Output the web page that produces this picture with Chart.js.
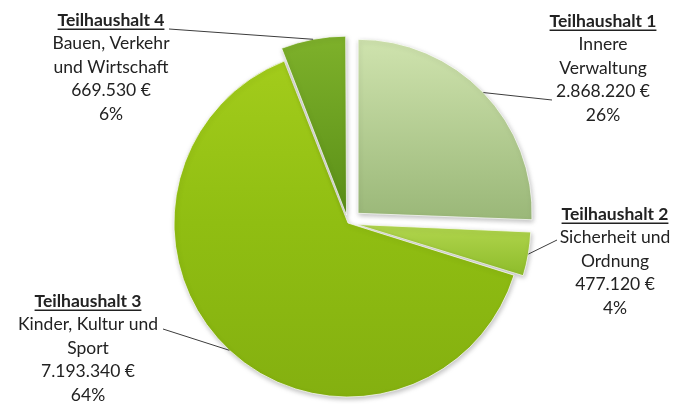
<!DOCTYPE html>
<html>
<head>
<meta charset="utf-8">
<script src="https://cdn.jsdelivr.net/npm/chart.js@4/dist/chart.umd.min.js"></script>
<style>
  html, body { margin: 0; padding: 0; background: #fff; }
  #pie { display: block; }
</style>
</head>
<body>
<canvas id="pie" width="687" height="404"></canvas>
<script>
// Teilhaushalte - Anteil am Budget
var titles = ['Teilhaushalt 1', 'Teilhaushalt 2', 'Teilhaushalt 3', 'Teilhaushalt 4'];
var descriptions = [
  ['Innere', 'Verwaltung'],
  ['Sicherheit und', 'Ordnung'],
  ['Kinder, Kultur und', 'Sport'],
  ['Bauen, Verkehr', 'und Wirtschaft']
];
var amounts = [2868220, 477120, 7193340, 669530];

// looks
var R = 174;
var sliceOffset = [56, 36, 0, 32];
var sliceGrow = [0, 0, 0, 5];
var sliceStops = [
  [[0, '#cfe3ae'], [0.5, '#9cb97a'], [1, '#8aa86a']],
  [[0, '#c4e266'], [0.5, '#b2d64e'], [0.64, '#8fbd2c'], [1, '#80ad20']],
  [[0, '#a4cd1c'], [0.5, '#90be12'], [1, '#84b010']],
  [[0, '#7db02a'], [0.5, '#5a8f17'], [1, '#4f8012']]
];
// label block: center x, first line y, start of the leader line
var labelBox = [
  { x: 603, y: 21, line: [552, 100] },
  { x: 615, y: 214, line: [557, 240] },
  { x: 88, y: 301, line: [163, 329] },
  { x: 111, y: 20, line: [169, 29] }
];
var lineGap = 23.6;
var FONT = 'Lato, "Open Sans", sans-serif';

var total = amounts.reduce(function (a, b) { return a + b; }, 0);
function euro(v) {
  return String(v).replace(/\B(?=(\d{3})+(?!\d))/g, '.') + ' €';
}

function sliceFill(ctx) {
  var chart = ctx.chart;
  var area = chart.chartArea;
  var stops = sliceStops[ctx.dataIndex];
  if (!area) return stops[1][1];
  var cy = (area.top + area.bottom) / 2;
  var g = chart.ctx.createLinearGradient(0, cy - R, 0, cy + R);
  stops.forEach(function (s) { g.addColorStop(s[0], s[1]); });
  return g;
}

// chart.js grows small exploded slices by itself, set the size we want
var keepRadius = {
  id: 'keepRadius',
  afterDatasetUpdate: function (chart) {
    chart.getDatasetMeta(0).data.forEach(function (arc, i) {
      var off = sliceOffset[i] / 4;
      var fix = 1 - Math.sin(Math.min(Math.PI, arc.circumference));
      arc.outerRadius = R + sliceGrow[i] - off * fix;
    });
  }
};

var softShadow = {
  id: 'softShadow',
  beforeDatasetsDraw: function (chart) {
    var c = chart.ctx;
    c.save();
    c.shadowColor = 'rgba(0,0,0,0.25)';
    c.shadowBlur = 5;
    c.shadowOffsetX = 1;
    c.shadowOffsetY = 2;
  },
  afterDatasetsDraw: function (chart) {
    chart.ctx.restore();
  }
};

var sliceLabels = {
  id: 'sliceLabels',
  afterDraw: function (chart) {
    var c = chart.ctx;
    var arcs = chart.getDatasetMeta(0).data;
    c.save();
    arcs.forEach(function (arc, i) {
      var box = labelBox[i];
      var mid = (arc.startAngle + arc.endAngle) / 2;
      var d = sliceOffset[i] / 4 + R + sliceGrow[i];
      var ax = arc.x + Math.cos(mid) * d;
      var ay = arc.y + Math.sin(mid) * d;

      // leader line
      c.strokeStyle = '#3c3c3c';
      c.lineWidth = 1;
      c.beginPath();
      c.moveTo(box.line[0], box.line[1]);
      c.lineTo(ax, ay);
      c.stroke();

      var lines = [titles[i]].concat(descriptions[i], [euro(amounts[i]), Math.round(amounts[i] / total * 100) + '%']);
      c.textAlign = 'center';
      c.textBaseline = 'middle';
      c.fillStyle = '#222';
      lines.forEach(function (t, k) {
        c.font = (k === 0 ? 'bold ' : '') + '17.5px ' + FONT;
        var y = box.y + k * lineGap;
        c.fillText(t, box.x, y);
        if (k === 0) {
          var w = c.measureText(t).width;
          c.fillRect(box.x - w / 2, y + 8.5, w, 1.5);
        }
      });
    });
    c.restore();
  }
};

new Chart(document.getElementById('pie'), {
  type: 'pie',
  data: {
    labels: titles,
    datasets: [{
      data: amounts,
      backgroundColor: sliceFill,
      borderColor: 'rgba(255,255,255,0.7)',
      borderWidth: 1,
      offset: sliceOffset,
      radius: R
    }]
  },
  options: {
    responsive: false,
    devicePixelRatio: 1,
    animation: false,
    layout: { padding: { left: 9, right: 0, top: 42, bottom: 0 } },
    plugins: {
      legend: { display: false },
      tooltip: { enabled: false }
    }
  },
  plugins: [keepRadius, softShadow, sliceLabels]
});
</script>
</body>
</html>
